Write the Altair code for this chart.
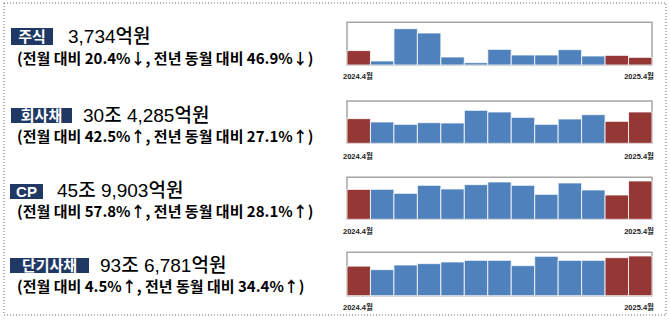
import altair as alt
import pandas as pd

# ---------------- data ----------------
months = ["2024.4", "2024.5", "2024.6", "2024.7", "2024.8", "2024.9", "2024.10",
          "2024.11", "2024.12", "2025.1", "2025.2", "2025.3", "2025.4"]
highlight = [True, False, False, False, False, False, False,
             False, False, False, False, True, True]

categories = ["주식", "회사채", "CP", "단기사채"]
amounts = ["3,734억원", "30조 4,285억원", "45조 9,903억원", "93조 6,781억원"]
changes = ["(전월 대비 20.4%↓, 전년 동월 대비 46.9%↓)",
           "(전월 대비 42.5%↑, 전년 동월 대비 27.1%↑)",
           "(전월 대비 57.8%↑, 전년 동월 대비 28.1%↑)",
           "(전월 대비 4.5%↑, 전년 동월 대비 34.4%↑)"]

# monthly issuance, 억원
stock = [7032, 1950, 17690, 15580, 3900, 1140, 7630, 4870, 4870, 7470, 4380, 4691, 3734]
corp_bond = [239400, 207200, 184500, 200700, 197500, 320500, 304300, 252500, 184500,
             236300, 278400, 213533, 304285]
cp = [359000, 360000, 312000, 408000, 364000, 416000, 448000, 408000, 300000,
      436000, 352000, 291450, 459903]
short_bond = [697000, 614000, 724000, 756000, 795000, 834000, 834000, 708000, 929000,
              834000, 834000, 896441, 936781]
series = [stock, corp_bond, cp, short_bond]
axis_max = [20800, 411000, 504000, 1023000]
tick_labels = ["2024.4월", "2025.4월"]

# ---------------- layout / style ----------------
W, H = 670, 322
RED, BLUE, NAVY = "#953735", "#4F81BD", "#1F3864"
FONT = "Liberation Sans, Noto Sans CJK KR"
CJK = "Noto Sans CJK KR"
CHART_X0, CHART_X1 = 347, 652
frame_top = [22.3, 101, 177.3, 252.3]
frame_base = [65, 143.3, 219.3, 295.7]
tick_y = [77, 157, 232, 308]
box_x = [(11, 53), (11, 72), (10, 43), (10, 89)]
box_y = [(28, 45), (108, 123), (184, 199), (258, 273)]
amount_x = [68, 83, 57, 100]
amount_y = [43, 122, 197, 272]
change_y = [59, 137, 212, 287]

one = pd.DataFrame({"k": [0]})
layers = []

# outer dotted border
layers.append(alt.Chart(one).mark_rect(fill=None, stroke="#666666", strokeWidth=1,
                                        strokeDash=[1, 2]).encode(
    x=alt.value(4), x2=alt.value(666), y=alt.value(3), y2=alt.value(315)))

xscale = alt.Scale(domain=months, range=[CHART_X0, CHART_X1], paddingInner=0, paddingOuter=0)
cscale = alt.Scale(domain=[True, False], range=[RED, BLUE])

for i in range(4):
    df = pd.DataFrame({"month": months, "value": series[i], "hl": highlight})
    # frame
    layers.append(alt.Chart(one).mark_rect(fill="white", stroke="#A6A6A6", strokeWidth=1.5).encode(
        x=alt.value(CHART_X0), x2=alt.value(CHART_X1),
        y=alt.value(frame_top[i]), y2=alt.value(frame_base[i])))
    # bars
    layers.append(alt.Chart(df).mark_bar(stroke="white", strokeWidth=1, strokeOpacity=0.8).encode(
        x=alt.X("month:N", sort=months, scale=xscale, axis=None),
        y=alt.Y("value:Q", scale=alt.Scale(domain=[0, axis_max[i]],
                                           range=[frame_base[i], frame_top[i]]),
                axis=None),
        color=alt.Color("hl:N", scale=cscale, legend=None)))
    # tick labels
    layers.append(alt.Chart(pd.DataFrame({"t": [tick_labels[0]]})).mark_text(
        align="left", baseline="middle", font=FONT, fontSize=7.5, fontWeight="bold",
        color="#222222").encode(x=alt.value(343), y=alt.value(tick_y[i]), text="t:N"))
    layers.append(alt.Chart(pd.DataFrame({"t": [tick_labels[1]]})).mark_text(
        align="right", baseline="middle", font=FONT, fontSize=7.5, fontWeight="bold",
        color="#222222").encode(x=alt.value(654), y=alt.value(tick_y[i]), text="t:N"))
    # label box
    layers.append(alt.Chart(one).mark_rect(fill=NAVY).encode(
        x=alt.value(box_x[i][0]), x2=alt.value(box_x[i][1]),
        y=alt.value(box_y[i][0]), y2=alt.value(box_y[i][1])))
    layers.append(alt.Chart(pd.DataFrame({"t": [categories[i]]})).mark_text(
        align="center", baseline="middle", font=FONT, fontSize=15, fontWeight="bold",
        color="white").encode(
        x=alt.value((box_x[i][0] + box_x[i][1]) / 2),
        y=alt.value((box_y[i][0] + box_y[i][1]) / 2 + 0.5), text="t:N"))
    # amount
    layers.append(alt.Chart(pd.DataFrame({"t": [amounts[i]]})).mark_text(
        align="left", baseline="alphabetic", font=FONT, fontSize=19, fontWeight=500,
        color="black").encode(x=alt.value(amount_x[i]), y=alt.value(amount_y[i]), text="t:N"))
    # change
    layers.append(alt.Chart(pd.DataFrame({"t": [changes[i]]})).mark_text(
        align="left", baseline="middle", font=CJK, fontSize=15, fontWeight="bold",
        color="black").encode(x=alt.value(17), y=alt.value(change_y[i]), text="t:N"))

chart = alt.layer(*layers).resolve_scale(y="independent").properties(
    width=W, height=H, padding=0, autosize=alt.AutoSizeParams(type="none")
).configure_view(stroke=None)

chart.save("out.html", embed_options={"renderer": "svg", "actions": False})
